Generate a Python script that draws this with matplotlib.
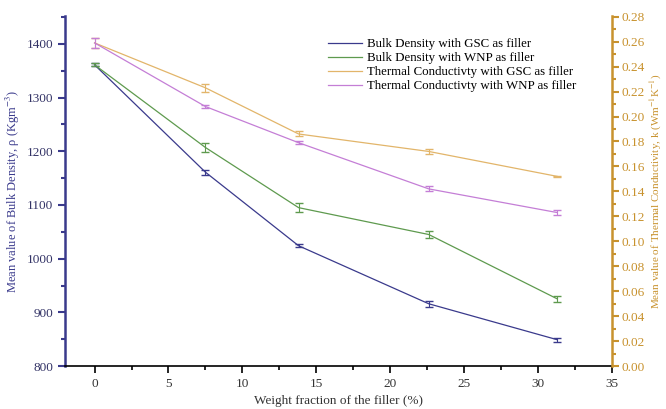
import numpy as np
import matplotlib.pyplot as plt
from matplotlib.ticker import MultipleLocator

plt.rcParams['font.family'] = ['Liberation Serif', 'DejaVu Serif']
plt.rcParams['mathtext.fontset'] = 'stix'

# data
x = [0, 7.5, 13.8, 22.6, 31.3]
bd_gsc = [1361, 1161, 1024, 916, 849]
bd_gsc_err = [3, 5, 3, 6, 4]
bd_wnp = [1361, 1207, 1095, 1045, 925]
bd_wnp_err = [3, 8, 8, 6, 5]
tc_gsc = [0.259, 0.223, 0.186, 0.172, 0.152]
tc_gsc_err = [0.004, 0.003, 0.002, 0.002, 0.0005]
tc_wnp = [0.259, 0.208, 0.179, 0.142, 0.123]
tc_wnp_err = [0.004, 0.001, 0.001, 0.002, 0.002]

navy = '#3a3a8c'
green = '#5e9a4e'
gold = '#e2b56a'
purple = '#c47ed6'
axis_gold = '#c8922e'

fig = plt.figure(figsize=(6.66, 4.09), dpi=100)
ax = fig.add_axes([0.0976, 0.105, 0.8214, 0.856])
ax2 = ax.twinx()

l1 = ax.errorbar(x, bd_gsc, yerr=bd_gsc_err, color=navy, lw=0.9, capsize=3, elinewidth=0.8)
l2 = ax.errorbar(x, bd_wnp, yerr=bd_wnp_err, color=green, lw=0.9, capsize=3, elinewidth=0.8)
l3 = ax2.errorbar(x, tc_gsc, yerr=tc_gsc_err, color=gold, lw=0.9, capsize=3, elinewidth=0.8)
l4 = ax2.errorbar(x, tc_wnp, yerr=tc_wnp_err, color=purple, lw=0.9, capsize=3, elinewidth=0.8)

ax.set_xlim(-2, 35)
ax.set_ylim(800, 1452)
ax2.set_ylim(0, 0.2806)

ax.xaxis.set_major_locator(MultipleLocator(5))
ax.xaxis.set_minor_locator(MultipleLocator(2.5))
ax.yaxis.set_major_locator(MultipleLocator(100))
ax.yaxis.set_minor_locator(MultipleLocator(50))
ax2.yaxis.set_major_locator(MultipleLocator(0.02))
ax2.yaxis.set_minor_locator(MultipleLocator(0.01))
ax2.yaxis.set_major_formatter(plt.FuncFormatter(lambda v, p: f"{v:.2f}"))

for a in (ax, ax2):
    a.spines['top'].set_visible(False)

ax.spines['left'].set_color(navy)
ax.spines['left'].set_linewidth(1.8)
ax.spines['bottom'].set_linewidth(1.2)
ax.spines['right'].set_visible(False)
ax2.spines['left'].set_visible(False)
ax2.spines['bottom'].set_visible(False)
ax2.spines['right'].set_color(axis_gold)
ax2.spines['right'].set_linewidth(1.8)

ax.tick_params(axis='y', which='both', colors=navy, labelcolor='#333366', width=1.5, labelsize=9.5)
ax.tick_params(axis='y', which='major', length=5)
ax.tick_params(axis='y', which='minor', length=3)
ax.tick_params(axis='x', which='both', width=1.2, labelsize=9.5, labelcolor='#333333')
ax.tick_params(axis='x', which='major', length=5)
ax.tick_params(axis='x', which='minor', length=3)
ax2.tick_params(axis='y', which='both', colors=axis_gold, width=1.5, labelsize=9.5, pad=1.5)
ax2.tick_params(axis='y', which='major', length=5)
ax2.tick_params(axis='y', which='minor', length=3)

ax.set_xlabel('Weight fraction of the filler (%)', fontsize=9.5, color='#333333')
ax.set_ylabel(r'Mean value of Bulk Density, ρ (Kgm$^{-3}$)', fontsize=9, color=navy, labelpad=3)
ax2.set_ylabel(r'Mean value of Thermal Conductivity, k (Wm$^{-1}$K$^{-1}$)', fontsize=8, color=axis_gold, labelpad=3)

handles = [l1.lines[0], l2.lines[0], l3.lines[0], l4.lines[0]]
labels = ['Bulk Density with GSC as filler', 'Bulk Density with WNP as filler',
          'Thermal Conductivty with GSC as filler', 'Thermal Conductivty with WNP as filler']
ax.legend(handles, labels, loc='upper left', bbox_to_anchor=(0.46, 0.97), frameon=False,
          fontsize=9.3, handlelength=2.6, labelspacing=0.15, handletextpad=0.4)

fig.savefig('out.png', dpi=100)
